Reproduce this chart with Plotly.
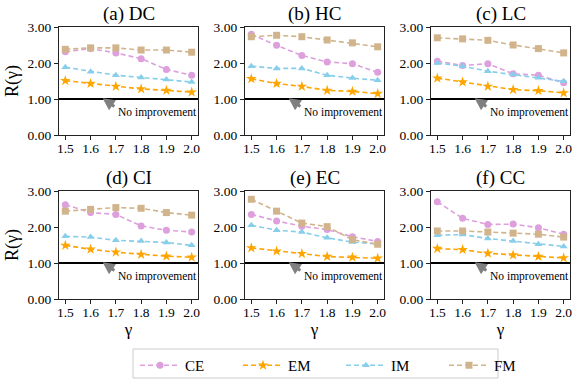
import plotly.graph_objects as go

gamma = [1.5, 1.6, 1.7, 1.8, 1.9, 2.0]
panels = ["(a) DC", "(b) HC", "(c) LC", "(d) CI", "(e) EC", "(f) CC"]
methods = ["CE", "EM", "IM", "FM"]

ce = [
    [2.31, 2.40, 2.28, 2.12, 1.82, 1.66],
    [2.80, 2.49, 2.21, 2.03, 1.98, 1.74],
    [2.05, 1.93, 1.98, 1.70, 1.66, 1.45],
    [2.62, 2.40, 2.35, 2.03, 1.91, 1.86],
    [2.35, 2.17, 2.02, 1.93, 1.73, 1.60],
    [2.70, 2.24, 2.07, 2.08, 1.98, 1.80],
]
em = [
    [1.51, 1.43, 1.35, 1.28, 1.24, 1.19],
    [1.56, 1.43, 1.35, 1.24, 1.21, 1.15],
    [1.58, 1.47, 1.35, 1.26, 1.23, 1.17],
    [1.49, 1.38, 1.30, 1.24, 1.19, 1.16],
    [1.42, 1.33, 1.26, 1.18, 1.16, 1.13],
    [1.40, 1.37, 1.27, 1.22, 1.18, 1.14],
]
im = [
    [1.88, 1.76, 1.66, 1.60, 1.54, 1.47],
    [1.91, 1.85, 1.85, 1.66, 1.58, 1.52],
    [2.00, 1.91, 1.77, 1.68, 1.59, 1.49],
    [1.74, 1.72, 1.63, 1.61, 1.57, 1.49],
    [2.05, 1.91, 1.86, 1.70, 1.58, 1.53],
    [1.77, 1.79, 1.68, 1.61, 1.52, 1.46],
]
fm = [
    [2.38, 2.42, 2.42, 2.36, 2.36, 2.30],
    [2.73, 2.77, 2.73, 2.64, 2.56, 2.45],
    [2.70, 2.67, 2.63, 2.50, 2.40, 2.28],
    [2.44, 2.49, 2.54, 2.52, 2.40, 2.33],
    [2.77, 2.44, 2.11, 2.01, 1.65, 1.52],
    [1.89, 1.89, 1.86, 1.83, 1.80, 1.72],
]
y_ticks = [0, 1, 2, 3]

series = [ce, em, im, fm]
colors = ["#dda0dd", "#ffa500", "#87ceeb", "#d2b48c"]
symbols = ["circle", "star", "triangle-up", "square"]

W, H = 581, 385
FONT = "Times New Roman, Liberation Serif, serif"

# panel boxes in pixels (left, right, top, bottom)
xs = [(59, 198), (245, 384), (431, 570)]
ys = [(27, 135), (191, 299)]

fig = go.Figure()

for i, name in enumerate(panels):
    r, c = divmod(i, 3)
    n = i + 1
    xa = "xaxis" if n == 1 else f"xaxis{n}"
    ya = "yaxis" if n == 1 else f"yaxis{n}"
    xref = "x" if n == 1 else f"x{n}"
    yref = "y" if n == 1 else f"y{n}"

    for k, m in enumerate(methods):
        fig.add_trace(
            go.Scatter(
                x=gamma,
                y=series[k][i],
                mode="lines+markers",
                name=m,
                legendgroup=m,
                showlegend=(i == 0),
                line=dict(color=colors[k], width=1.6, dash="5px,3px"),
                marker=dict(symbol=symbols[k], size=7 if k != 1 else 8, color=colors[k]),
                xaxis=xref,
                yaxis=yref,
            )
        )

    l, rr = xs[c]
    t, b = ys[r]
    fig.layout[xa] = dict(
        domain=[l / W, rr / W],
        range=[1.475, 2.025],
        tickvals=gamma,
        ticktext=["1.5", "1.6", "1.7", "1.8", "1.9", "2.0"],
        ticks="outside",
        ticklen=4,
        tickcolor="#222",
        showline=True,
        linecolor="#222",
        linewidth=1.2,
        mirror=True,
        showgrid=False,
        zeroline=False,
        automargin=False,
        anchor=yref,
        ticklabelstandoff=-3,
        tickfont=dict(family=FONT, size=13.5, color="black"),
        title=dict(
            text="γ" if r == 1 else "",
            font=dict(family=FONT, size=17, color="black"),
            standoff=2,
        ),
    )
    fig.layout[ya] = dict(
        domain=[1 - b / H, 1 - t / H],
        range=[0, 3],
        tickvals=y_ticks,
        ticktext=[f"{v:.2f}" for v in y_ticks],
        ticks="outside",
        ticklen=4,
        tickcolor="#222",
        showline=True,
        linecolor="#222",
        linewidth=1.2,
        mirror=True,
        showgrid=False,
        zeroline=False,
        automargin=False,
        anchor=xref,
        tickfont=dict(family=FONT, size=13.5, color="black"),
        title=dict(
            text="R(γ)" if c == 0 else "",
            font=dict(family=FONT, size=18, color="black"),
            standoff=4,
        ),
    )

    # no improvement baseline
    fig.add_shape(
        type="line", xref=f"{xref} domain", yref=yref,
        x0=0, x1=1, y0=1, y1=1,
        line=dict(color="black", width=1.8),
    )
    fig.add_annotation(
        x=1.648, y=1.02, ax=1.70, ay=0.76,
        xref=xref, yref=yref, axref=xref, ayref=yref,
        text="", showarrow=True,
        arrowhead=2, arrowsize=0.8, arrowwidth=3, arrowcolor="#808080",
        standoff=0, startstandoff=0,
    )
    fig.add_annotation(
        x=1.70, y=0.62, xref=xref, yref=yref,
        text="No improvement", showarrow=False,
        xanchor="left", yanchor="middle",
        font=dict(family=FONT, size=11.5, color="black"),
    )
    # panel title
    fig.add_annotation(
        x=(l + rr) / 2 / W, y=1 - (t - 13) / H,
        xref="paper", yref="paper",
        text=name, showarrow=False,
        xanchor="center", yanchor="middle",
        font=dict(family=FONT, size=19, color="black"),
    )

# legend frame
fig.add_shape(
    type="rect", xref="paper", yref="paper",
    x0=133 / W, x1=498 / W, y0=1 - 378 / H, y1=1 - 349 / H,
    line=dict(color="#cccccc", width=1), fillcolor="rgba(0,0,0,0)",
)

fig.update_layout(
    width=W,
    height=H,
    margin=dict(l=0, r=0, t=0, b=0),
    plot_bgcolor="white",
    paper_bgcolor="white",
    font=dict(family=FONT, color="black"),
    legend=dict(
        orientation="h",
        x=135 / W, y=1 - 349 / H,
        xanchor="left", yanchor="top",
        bgcolor="rgba(0,0,0,0)",
        borderwidth=0,
        entrywidth=48,
        font=dict(family=FONT, size=15, color="black"),
        itemwidth=40,
        tracegroupgap=0,
    ),
)

# the page body has a default 8px margin; drop it so the figure fills the window
fig.write_html(
    "out.html",
    config={"displayModeBar": False},
    post_script="document.body.style.margin='0';",
)
